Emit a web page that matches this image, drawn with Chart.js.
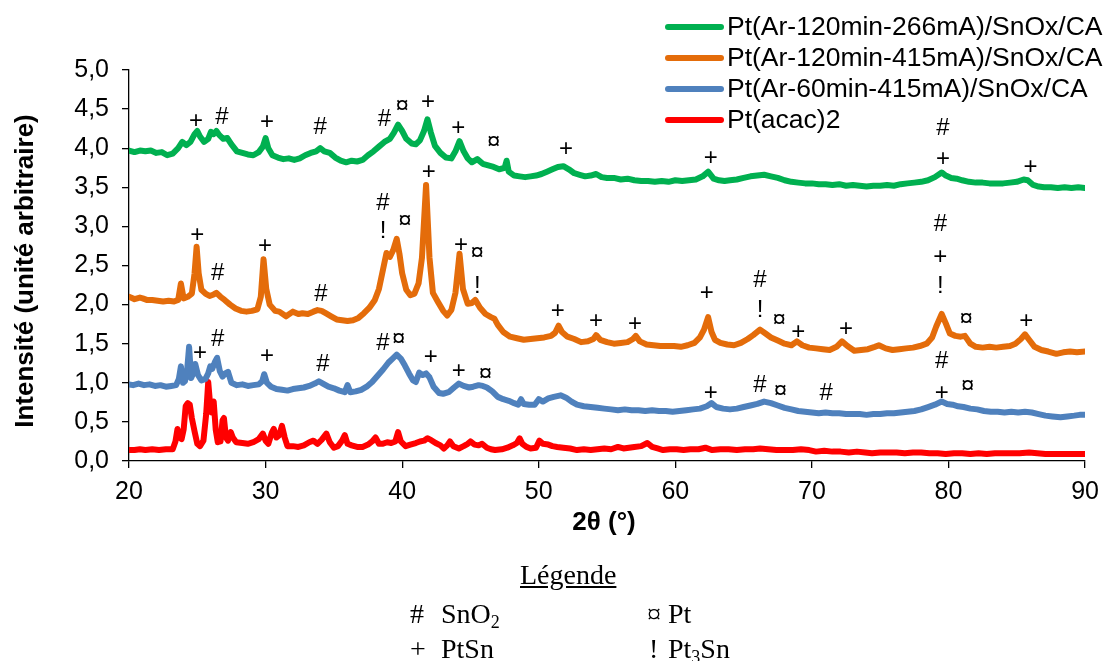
<!DOCTYPE html>
<html lang="fr">
<head>
<meta charset="UTF-8" />
<title>DRX Pt/SnOx/CA</title>
<script src="https://cdn.jsdelivr.net/npm/chart.js"></script>
<style>
  body{margin:0;background:#fff;font-family:'Liberation Sans',Arial,sans-serif}
  #wrap{position:relative;width:1108px;height:661px}
  canvas{position:absolute;left:0;top:0}
  .leg{position:absolute;font-family:'Liberation Serif','Times New Roman',serif;font-size:28px;color:#000;white-space:nowrap;line-height:1}
  .leg sub{font-size:18px;vertical-align:-5px;line-height:0}
</style>
</head>
<body>
<div id="wrap">
  <canvas id="xrd" width="1108" height="661"></canvas>
  <div class="leg" style="left:520px;top:561px;text-decoration:underline">Légende</div>
  <div class="leg" style="left:410px;top:600px">#</div>
  <div class="leg" style="left:441px;top:600px">SnO<sub>2</sub></div>
  <div class="leg" style="left:647px;top:600px">¤</div>
  <div class="leg" style="left:668px;top:600px">Pt</div>
  <div class="leg" style="left:410px;top:635px">+</div>
  <div class="leg" style="left:441px;top:635px">PtSn</div>
  <div class="leg" style="left:649px;top:635px">!</div>
  <div class="leg" style="left:668px;top:635px">Pt<sub>3</sub>Sn</div>
</div>
<script>
// séries DRX (2θ, intensité)
const greenX = [20,20.4,20.8,21.2,21.6,22,22.4,22.8,23.2,23.6,23.9,24.2,24.5,24.8,25,25.2,25.5,25.8,26,26.2,26.4,26.6,26.9,27.2,27.5,27.9,28.3,28.7,29.1,29.5,29.8,30,30.2,30.5,30.9,31.3,31.7,32.1,32.5,32.9,33.3,33.7,34,34.3,34.7,35.1,35.5,35.9,36.3,36.7,37.1,37.5,37.9,38.3,38.7,39.1,39.4,39.7,40,40.3,40.7,41,41.3,41.6,41.85,42.1,42.4,42.8,43.2,43.6,43.9,44.2,44.5,44.8,45.1,45.5,45.9,46.3,46.7,47.1,47.5,47.65,47.8,48.2,48.6,49,49.4,49.8,50.2,50.6,51,51.4,51.8,52.2,52.6,53,53.4,53.8,54.2,54.6,55,55.5,56,56.5,57,57.5,58,58.5,59,59.5,60,60.5,61,61.5,62,62.4,62.8,63.2,63.6,64,64.5,65,65.5,66,66.5,67,67.5,68,68.5,69,69.5,70,70.5,71,71.5,72,72.5,73,73.5,74,74.5,75,75.5,76,76.5,77,77.5,78,78.5,79,79.5,79.8,80.2,80.6,81,81.5,82,82.5,83,83.5,84,84.5,85,85.5,85.8,86.2,86.6,87,87.5,88,88.5,89,89.5,90];
const greenY = [3.97,3.95,3.97,3.96,3.97,3.94,3.95,3.91,3.93,4.00,4.08,4.04,4.08,4.18,4.22,4.15,4.08,4.12,4.21,4.18,4.22,4.17,4.12,4.13,4.05,3.96,3.94,3.92,3.91,3.95,4.02,4.13,4.00,3.91,3.88,3.86,3.87,3.85,3.87,3.91,3.94,3.96,4.00,3.96,3.94,3.88,3.84,3.82,3.84,3.83,3.85,3.91,3.96,4.02,4.08,4.12,4.20,4.30,4.22,4.12,4.06,4.05,4.10,4.22,4.37,4.20,4.03,3.94,3.88,3.87,3.96,4.09,3.96,3.87,3.82,3.86,3.80,3.78,3.76,3.73,3.75,3.84,3.70,3.65,3.64,3.63,3.64,3.65,3.67,3.70,3.73,3.76,3.77,3.73,3.68,3.66,3.64,3.65,3.67,3.63,3.62,3.62,3.60,3.61,3.59,3.58,3.58,3.57,3.58,3.57,3.59,3.58,3.59,3.60,3.64,3.70,3.61,3.59,3.58,3.59,3.60,3.62,3.64,3.65,3.66,3.64,3.62,3.59,3.57,3.56,3.55,3.55,3.54,3.54,3.53,3.54,3.52,3.53,3.52,3.51,3.52,3.52,3.53,3.52,3.54,3.55,3.56,3.57,3.59,3.63,3.69,3.65,3.62,3.61,3.59,3.57,3.56,3.56,3.55,3.55,3.55,3.56,3.57,3.60,3.59,3.53,3.51,3.50,3.50,3.49,3.50,3.49,3.50,3.49];

const orangeX = [20,20.4,20.8,21,21.3,21.7,22.1,22.5,22.9,23.3,23.6,23.8,24,24.3,24.6,24.8,24.95,25.1,25.3,25.6,25.9,26.2,26.4,26.7,27,27.4,27.8,28.2,28.6,29,29.4,29.65,29.85,30.05,30.3,30.7,31,31.5,32,32.4,32.7,33.1,33.5,33.8,34.1,34.4,34.8,35.2,35.6,36,36.4,36.8,37.2,37.6,38,38.3,38.6,38.85,39.1,39.35,39.6,39.8,40,40.3,40.6,40.9,41.2,41.45,41.75,42,42.25,42.6,43,43.3,43.6,43.9,44.2,44.45,44.8,45.1,45.35,45.7,46.1,46.5,46.75,47,47.4,47.9,48.4,48.9,49.4,49.9,50.4,50.9,51.2,51.45,51.7,52.1,52.6,53.1,53.6,54,54.2,54.5,55,55.5,56,56.5,56.9,57.1,57.4,57.9,58.4,58.9,59.4,59.9,60.4,60.9,61.4,61.8,62.1,62.4,62.65,62.9,63.3,63.8,64.3,64.8,65.3,65.7,66.2,66.6,67,67.5,68,68.5,68.9,69.3,69.8,70.3,70.8,71.3,71.8,72.2,72.6,73.1,73.6,74.1,74.6,74.9,75.4,75.9,76.4,76.9,77.4,77.9,78.4,78.8,79.1,79.5,79.8,80.1,80.5,80.9,81.2,81.6,82,82.5,83,83.5,84,84.5,84.9,85.3,85.6,85.9,86.3,86.8,87.3,87.9,88.4,88.9,89.4,90];
const orangeY = [2.10,2.07,2.09,2.08,2.06,2.06,2.05,2.04,2.05,2.04,2.06,2.27,2.08,2.10,2.14,2.40,2.74,2.40,2.19,2.14,2.11,2.13,2.15,2.10,2.06,2.00,1.95,1.92,1.91,1.92,1.94,2.10,2.58,2.20,2.00,1.92,1.91,1.85,1.91,1.88,1.89,1.88,1.91,1.93,1.92,1.89,1.85,1.81,1.80,1.79,1.80,1.83,1.89,1.96,2.06,2.20,2.45,2.66,2.61,2.70,2.84,2.65,2.40,2.19,2.12,2.14,2.27,2.60,3.53,2.60,2.15,2.04,1.92,1.86,1.93,2.15,2.65,2.20,2.01,2.02,2.06,1.96,1.88,1.84,1.82,1.74,1.65,1.59,1.57,1.55,1.56,1.57,1.58,1.60,1.64,1.73,1.65,1.59,1.56,1.52,1.53,1.56,1.61,1.55,1.52,1.50,1.51,1.52,1.56,1.60,1.53,1.49,1.48,1.47,1.47,1.47,1.46,1.48,1.51,1.58,1.68,1.84,1.65,1.55,1.51,1.49,1.48,1.51,1.56,1.61,1.68,1.63,1.58,1.54,1.50,1.48,1.53,1.48,1.45,1.44,1.43,1.42,1.46,1.53,1.47,1.41,1.42,1.43,1.46,1.48,1.44,1.42,1.43,1.44,1.45,1.47,1.50,1.58,1.72,1.88,1.76,1.63,1.60,1.59,1.60,1.50,1.46,1.45,1.46,1.45,1.46,1.47,1.50,1.56,1.62,1.55,1.46,1.42,1.40,1.37,1.39,1.40,1.39,1.40];

const blueX = [20,20.3,20.7,21.1,21.5,21.9,22.3,22.7,23.1,23.45,23.65,23.8,23.95,24.1,24.25,24.4,24.55,24.7,24.85,25.05,25.3,25.6,25.8,25.95,26.1,26.3,26.45,26.65,26.85,27.05,27.25,27.5,27.9,28.3,28.7,29.1,29.5,29.75,29.9,30.1,30.4,30.8,31.2,31.6,32,32.4,32.8,33.2,33.6,33.9,34.2,34.6,35,35.4,35.8,36,36.2,36.6,37,37.4,37.8,38.2,38.6,39,39.3,39.6,39.9,40.2,40.5,40.8,41,41.25,41.5,41.75,42,42.3,42.7,43,43.4,43.8,44.15,44.5,44.9,45.2,45.6,45.9,46.2,46.6,47,47.4,47.8,48.2,48.5,48.7,48.9,49.3,49.7,50,50.3,50.7,51.1,51.6,52,52.4,52.8,53.3,53.8,54.3,54.8,55.3,55.8,56.3,56.8,57.3,57.8,58.3,58.8,59.3,59.8,60.3,60.8,61.3,61.8,62.3,62.65,63,63.5,64,64.5,65,65.5,66,66.5,67,67.5,68,68.5,69,69.5,70,70.5,71,71.5,72,72.5,73,73.5,74,74.5,75,75.5,76,76.5,77,77.5,78,78.5,79,79.5,79.9,80.3,80.7,81.1,81.6,82.1,82.6,83.1,83.6,84.1,84.6,85.1,85.6,86.1,86.6,87.1,87.6,88.2,88.7,89.2,89.6,90];
const blueY = [0.98,0.97,0.99,0.97,0.98,0.96,0.97,0.95,0.96,0.97,1.05,1.21,1.00,1.02,1.15,1.46,1.06,1.12,1.24,1.10,1.03,1.05,1.12,1.21,1.18,1.27,1.32,1.15,1.08,1.12,1.14,1.00,0.97,0.98,0.96,0.97,0.98,1.02,1.11,1.00,0.95,0.92,0.91,0.90,0.92,0.93,0.94,0.96,0.99,1.02,0.99,0.95,0.93,0.90,0.88,0.97,0.88,0.89,0.91,0.95,1.01,1.09,1.17,1.26,1.31,1.36,1.31,1.22,1.12,1.03,1.01,1.13,1.10,1.12,1.07,0.95,0.87,0.86,0.88,0.94,0.99,0.96,0.94,0.95,0.97,0.96,0.94,0.89,0.82,0.79,0.77,0.74,0.72,0.79,0.73,0.72,0.72,0.79,0.76,0.80,0.82,0.84,0.81,0.76,0.72,0.70,0.69,0.68,0.67,0.66,0.65,0.66,0.65,0.65,0.64,0.65,0.64,0.64,0.63,0.64,0.65,0.66,0.67,0.70,0.74,0.69,0.67,0.66,0.67,0.69,0.71,0.73,0.76,0.74,0.71,0.68,0.66,0.64,0.63,0.62,0.61,0.62,0.61,0.61,0.60,0.60,0.60,0.59,0.60,0.60,0.61,0.61,0.62,0.63,0.64,0.66,0.69,0.72,0.76,0.73,0.72,0.70,0.69,0.67,0.66,0.64,0.63,0.63,0.62,0.63,0.62,0.63,0.62,0.60,0.58,0.57,0.56,0.57,0.58,0.59,0.59];

const redX = [20,20.4,20.8,21.2,21.7,22.2,22.7,23.2,23.4,23.55,23.7,23.85,24,24.15,24.3,24.45,24.6,24.8,25,25.2,25.45,25.65,25.8,25.95,26.05,26.2,26.35,26.5,26.7,26.85,26.95,27.1,27.25,27.45,27.6,27.85,28.3,28.7,29.1,29.5,29.8,30,30.2,30.45,30.6,30.8,31,31.2,31.4,31.6,32,32.4,32.8,33.2,33.5,33.8,34.1,34.45,34.7,35,35.3,35.6,35.8,36,36.3,36.7,37.1,37.5,37.8,38.05,38.3,38.55,38.9,39.2,39.5,39.7,39.9,40.25,40.6,41,41.3,41.6,41.85,42.1,42.45,42.8,43.05,43.3,43.5,43.75,44.15,44.5,44.8,45,45.3,45.6,45.85,46.2,46.5,46.8,47.3,47.7,48.1,48.4,48.6,48.8,49.1,49.4,49.8,50.05,50.3,50.7,51,51.35,51.8,52.3,52.8,53.3,53.8,54.3,54.8,55.3,55.8,56.2,56.6,57,57.5,57.95,58.3,58.7,59.1,59.6,60.1,60.6,61.1,61.7,62.2,62.7,63.3,63.9,64.5,65.1,65.7,66.2,66.8,67.4,68,68.6,69.2,69.8,70.3,70.9,71.5,72.1,72.7,73.3,73.9,74.4,75,75.6,76.2,76.8,77.4,78,78.6,79.2,79.8,80.4,81,81.6,82.2,82.8,83.4,84,84.6,85.2,85.9,86.5,87.1,87.7,88.3,88.9,89.5,90];
const redY = [0.14,0.14,0.15,0.14,0.15,0.14,0.15,0.15,0.25,0.41,0.30,0.28,0.40,0.70,0.74,0.72,0.55,0.38,0.22,0.19,0.26,0.60,1.01,0.70,0.62,0.76,0.40,0.24,0.25,0.52,0.55,0.30,0.26,0.37,0.30,0.24,0.23,0.22,0.24,0.28,0.35,0.26,0.22,0.36,0.41,0.30,0.33,0.45,0.30,0.19,0.19,0.18,0.20,0.24,0.26,0.22,0.27,0.35,0.24,0.17,0.19,0.26,0.33,0.22,0.20,0.18,0.18,0.21,0.25,0.30,0.22,0.22,0.24,0.23,0.25,0.37,0.25,0.19,0.21,0.23,0.25,0.26,0.29,0.27,0.23,0.20,0.16,0.20,0.25,0.19,0.16,0.19,0.22,0.25,0.21,0.20,0.22,0.17,0.15,0.14,0.15,0.17,0.20,0.23,0.29,0.22,0.18,0.16,0.17,0.26,0.22,0.21,0.19,0.18,0.17,0.16,0.14,0.15,0.14,0.15,0.16,0.15,0.18,0.16,0.17,0.18,0.19,0.23,0.18,0.16,0.14,0.15,0.15,0.14,0.15,0.15,0.17,0.14,0.15,0.15,0.14,0.15,0.15,0.16,0.15,0.14,0.14,0.14,0.15,0.14,0.12,0.13,0.12,0.12,0.11,0.12,0.11,0.10,0.11,0.11,0.11,0.10,0.11,0.11,0.10,0.10,0.09,0.10,0.10,0.09,0.10,0.09,0.10,0.10,0.10,0.10,0.11,0.10,0.09,0.09,0.09,0.09,0.09,0.09];

const seriesNames = ['Pt(Ar-120min-266mA)/SnOx/CA','Pt(Ar-120min-415mA)/SnOx/CA','Pt(Ar-60min-415mA)/SnOx/CA','Pt(acac)2'];
const seriesColors = ['#00B050','#E46C0A','#4F81BD','#FF0000'];

// repères de phases au-dessus des pics
const markX = [24.9,26.8,30.1,34.0,38.7,40.0,41.9,44.1,46.7,52.0,62.6,79.6,79.6,86.0,
  25.0,26.5,29.95,34.05,38.6,38.6,40.2,41.95,44.3,45.5,45.5,51.4,54.2,57.05,62.3,66.2,66.2,67.6,69.0,72.5,79.4,79.4,79.4,81.3,85.7,
  25.2,26.5,30.1,34.2,38.6,39.75,42.1,44.15,46.1,62.6,66.2,67.7,71.05,79.5,79.5,81.4];
const markY = [4.34,4.39,4.33,4.27,4.37,4.53,4.59,4.25,4.08,3.99,3.87,4.25,3.86,3.76,
  2.89,2.40,2.75,2.13,3.30,2.93,3.07,3.69,2.76,2.66,2.23,1.91,1.78,1.75,2.14,2.31,1.93,1.80,1.65,1.68,3.02,2.61,2.23,1.81,1.78,
  1.37,1.55,1.34,1.23,1.51,1.55,1.33,1.14,1.11,0.87,0.97,0.89,0.87,1.27,0.87,0.95];
const markText = ['+','#','+','#','#','¤','+','+','¤','+','+','#','+','+',
  '+','#','+','#','#','!','¤','+','+','¤','!','+','+','+','+','#','!','¤','+','+','#','+','!','¤','+',
  '+','#','+','#','#','¤','+','+','¤','+','#','¤','#','#','+','¤'];

const pts = (xs, ys) => xs.map((x, i) => ({ x, y: ys[i] }));
const allX = [greenX, orangeX, blueX, redX];
const allY = [greenY, orangeY, blueY, redY];

const datasets = seriesNames.map((name, i) => ({
  label: name,
  data: pts(allX[i], allY[i]),
  borderColor: seriesColors[i],
  backgroundColor: seriesColors[i],
  borderWidth: 6,
  pointRadius: 0,
  tension: 0,
  borderJoinStyle: 'round',
  borderCapStyle: 'round'
}));

const FONT = "'Liberation Sans', Arial, sans-serif";

const extras = {
  id: 'extras',
  afterDatasetsDraw(chart) {
    const { ctx, scales: { x, y } } = chart;
    ctx.save();
    ctx.fillStyle = '#000';
    ctx.textAlign = 'center';
    ctx.textBaseline = 'middle';
    ctx.font = `24px ${FONT}`;
    markText.forEach((t, i) => ctx.fillText(t, x.getPixelForValue(markX[i]), y.getPixelForValue(markY[i])));

    // légende des séries
    ctx.textAlign = 'left';
    ctx.font = `26.5px ${FONT}`;
    seriesNames.forEach((name, i) => {
      const ly = 27 + i * 31;
      ctx.strokeStyle = seriesColors[i];
      ctx.lineWidth = 6;
      ctx.lineCap = 'round';
      ctx.beginPath(); ctx.moveTo(668, ly); ctx.lineTo(721, ly); ctx.stroke();
      ctx.fillStyle = '#000';
      ctx.fillText(name, 727, ly + 1);
    });

    // titres des axes
    ctx.font = `bold 26px ${FONT}`;
    ctx.textAlign = 'center';
    ctx.fillText('2θ (°)', 604, 523);
    ctx.translate(26, 271);
    ctx.rotate(-Math.PI / 2);
    ctx.fillText('Intensité (unité arbitraire)', 0, 0);
    ctx.restore();
  }
};

new Chart(document.getElementById('xrd'), {
  type: 'line',
  data: { datasets },
  options: {
    responsive: false,
    animation: false,
    layout: { padding: { left: 0, right: 20, top: 70, bottom: 120 } },
    plugins: { legend: { display: false }, tooltip: { enabled: false } },
    scales: {
      x: {
        type: 'linear', min: 20, max: 90,
        ticks: { stepSize: 10, color: '#000', font: { size: 25, family: FONT }, padding: 9, maxRotation: 0 },
        grid: { drawOnChartArea: false, tickLength: 7, color: '#000', lineWidth: 1.3 },
        border: { color: '#000', width: 1.3 },
        afterFit: s => { s.height = 80; }
      },
      y: {
        min: 0, max: 5,
        ticks: { stepSize: 0.5, color: '#000', font: { size: 25, family: FONT }, padding: 13,
          callback: v => v.toFixed(1).replace('.', ',') },
        grid: { drawOnChartArea: false, tickLength: 7, color: '#000', lineWidth: 1.3 },
        border: { color: '#000', width: 1.3 },
        afterFit: s => { s.width = 129; }
      }
    }
  },
  plugins: [extras]
});
</script>
</body>
</html>
